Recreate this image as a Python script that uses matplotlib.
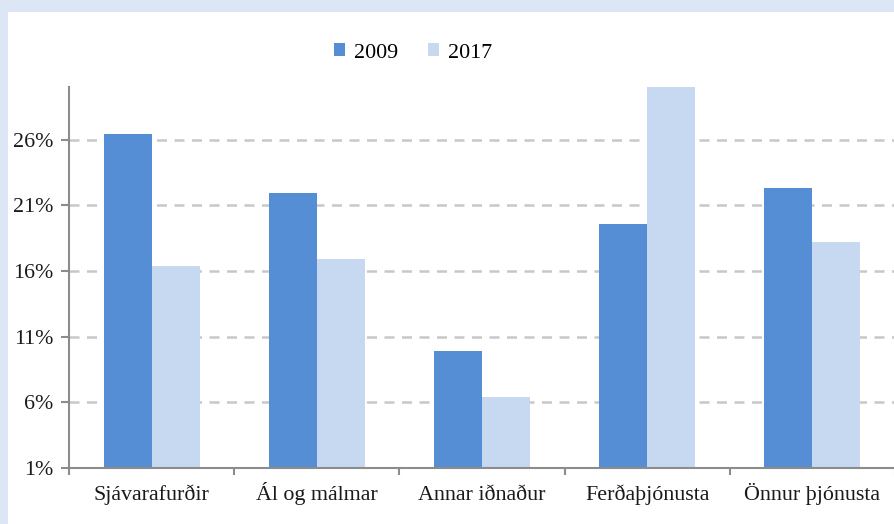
import numpy as np
import matplotlib.pyplot as plt
from matplotlib.patches import Rectangle
from matplotlib.ticker import FuncFormatter

plt.rcParams['font.family'] = ['Liberation Serif', 'DejaVu Serif']

categories = ['Sjávarafurðir', 'Ál og málmar', 'Annar iðnaður', 'Ferðaþjónusta', 'Önnur þjónusta']
vals_2009 = [26.4, 21.9, 9.9, 19.6, 22.3]
vals_2017 = [16.4, 16.9, 6.4, 30.0, 18.2]
yticks = [1, 6, 11, 16, 21, 26]

c2009 = '#558ed5'
c2017 = '#c6d9f1'
frame_col = '#dce6f4'
fs = 15.8

fig = plt.figure(figsize=(8.94, 5.24), dpi=100)
fig.patch.set_facecolor(frame_col)
# white panel inside the light blue frame
fig.patches.append(Rectangle((8 / 894, 0), 1, (524 - 12) / 524, transform=fig.transFigure,
                             facecolor='white', edgecolor='none', zorder=-1))

ax = fig.add_axes([69 / 894, 56 / 524, 826 / 894, 381 / 524])
ax.set_facecolor('none')
ax.set_zorder(2)

x = np.arange(len(categories))
w = 0.29
ax.bar(x - w / 2, vals_2009, width=w, color=c2009, label='2009', zorder=3)
ax.bar(x + w / 2, vals_2017, width=w, color=c2017, label='2017', zorder=3)

ax.set_xlim(-0.5, len(categories) - 0.5)
ax.set_ylim(1, 30)
ax.set_yticks(yticks)
ax.yaxis.set_major_formatter(FuncFormatter(lambda v, p: '%d%%' % v))
ax.set_xticks(x)
ax.set_xticklabels(categories, va='baseline')
ax.set_xticks(np.arange(len(categories) + 1) - 0.5, minor=True)
ax.tick_params(axis='x', which='major', length=0, pad=23, labelsize=fs, labelcolor='#1a1a1a')
ax.tick_params(axis='x', which='minor', length=5, width=1.5, color='#8c8c8c')
ax.tick_params(axis='y', length=6, width=1.5, color='#8c8c8c', pad=5, labelsize=fs, labelcolor='#1a1a1a')

ax.grid(axis='y', linestyle=(0, (4, 3)), color='#c8c8c8', linewidth=1.8, zorder=1)
for s in ['top', 'right']:
    ax.spines[s].set_visible(False)
for s in ['left', 'bottom']:
    ax.spines[s].set_color('#8c8c8c')
    ax.spines[s].set_linewidth(1.5)
ax.spines['bottom'].set_zorder(4)

ax.legend(loc='center', bbox_to_anchor=(413 / 894, 1 - 53 / 524), bbox_transform=fig.transFigure,
          ncol=2, frameon=False, fontsize=fs, handlelength=0.5, handleheight=0.5,
          handletextpad=0.4, columnspacing=1.4)

fig.savefig('out.png', dpi=100, facecolor=fig.get_facecolor())
